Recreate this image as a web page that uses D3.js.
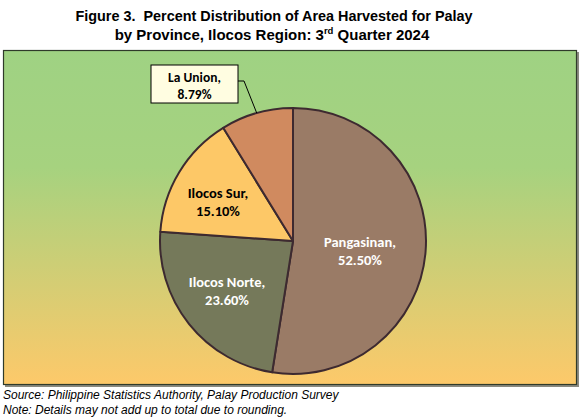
<!DOCTYPE html>
<html><head><meta charset="utf-8">
<script src="https://cdn.jsdelivr.net/npm/d3@7"></script>
<style>body{margin:0;background:#fff;} svg{display:block;}</style>
</head><body>
<svg id="c" width="581" height="420"></svg>
<script>
const provinces = ["Pangasinan", "Ilocos Norte", "Ilocos Sur", "La Union"];
const shares = [52.50, 23.60, 15.10, 8.79];
const labels = ["52.50%", "23.60%", "15.10%", "8.79%"];
const colors = ["#9a7b66", "#75795a", "#fdc867", "#d08a5f"];
const labelColors = ["#ffffff", "#ffffff", "#000000", "#000000"];

const svg = d3.select("#c");
const defs = svg.append("defs");
const grad = defs.append("linearGradient").attr("id","bg").attr("x1",0).attr("y1",0).attr("x2",0).attr("y2",1);
grad.append("stop").attr("offset","0%").attr("stop-color","#9fd283");
grad.append("stop").attr("offset","35%").attr("stop-color","#a6d27f");
grad.append("stop").attr("offset","100%").attr("stop-color","#fdc96a");

// title
const title = svg.append("text").attr("text-anchor","middle")
  .style("font-family","Liberation Sans, Arial, sans-serif").style("font-weight","bold").style("font-size","15px")
  .attr("fill","#000").attr("xml:space","preserve");
title.append("tspan").attr("x",274).attr("y",21).attr("textLength",397).attr("lengthAdjust","spacingAndGlyphs")
  .text("Figure 3.\u00A0 Percent Distribution of Area Harvested for Palay");
const t2 = title.append("tspan").attr("x",272).attr("y",40);
t2.append("tspan").text("by Province, Ilocos Region: 3");
t2.append("tspan").attr("dy",-6).style("font-size","9.5px").text("rd");
t2.append("tspan").attr("dy",6).text(" Quarter 2024");

// frame
svg.append("rect").attr("x",5).attr("y",52).attr("width",574).attr("height",335).attr("fill","#8a8a80");
svg.append("rect").attr("x",3.5).attr("y",50.5).attr("width",573).attr("height",334)
  .attr("fill","url(#bg)").attr("stroke","#2f3a2a").attr("stroke-width",1.2);

// pie
const cx = 293, cy = 241, r = 133;
const pie = d3.pie().sort(null).value(d => d)(shares);
const arc = d3.arc().innerRadius(0).outerRadius(r);
const g = svg.append("g").attr("transform",`translate(${cx},${cy})`);
g.selectAll("path").data(pie).join("path")
  .attr("d",arc).attr("fill",(d,i)=>colors[i])
  .attr("stroke","#3d2a30").attr("stroke-width",2).attr("stroke-linejoin","round");

const font = "Carlito, Lato, 'Open Sans', sans-serif";
const fs = "14.5px";
const labelPos = [[67, 6], [-66, 46], [-75, -43]];
labelPos.forEach((p,i)=>{
  const t = g.append("text").attr("text-anchor","middle")
    .style("font-family",font).style("font-weight","bold").style("font-size",fs)
    .attr("fill",labelColors[i]);
  t.append("tspan").attr("x",p[0]).attr("y",p[1]).text(provinces[i] + ",");
  t.append("tspan").attr("x",p[0]).attr("y",p[1]+17.5).text(labels[i]);
});

// La Union callout
const la = pie[3];
const mid = (la.startAngle + la.endAngle)/2;
const edge = [Math.sin(mid)*r, -Math.cos(mid)*r];
const bx = 151 - cx, by = 65 - cy, bw = 87, bh = 38;
g.append("polyline")
  .attr("points", `${bx+bw},${by+16} ${bx+bw+6},${by+16} ${edge[0]},${edge[1]}`)
  .attr("fill","none").attr("stroke","#000").attr("stroke-width",1);
g.append("rect").attr("x",bx).attr("y",by).attr("width",bw).attr("height",bh)
  .attr("fill","#fffde1").attr("stroke","#000").attr("stroke-width",1);
const lt = g.append("text").attr("text-anchor","middle")
  .style("font-family",font).style("font-weight","bold").style("font-size","13.5px").attr("fill","#000");
lt.append("tspan").attr("x",bx+bw/2).attr("y",by+17).text(provinces[3] + ",");
lt.append("tspan").attr("x",bx+bw/2).attr("y",by+34).text(labels[3]);

// footer
const foot = svg.append("text").style("font-family","Liberation Sans, Arial, sans-serif")
  .style("font-style","italic").style("font-size","12px").attr("fill","#000");
foot.append("tspan").attr("x",3).attr("y",399).text("Source: Philippine Statistics Authority, Palay Production Survey");
foot.append("tspan").attr("x",3).attr("y",414).text("Note: Details may not add up to total due to rounding.");
</script>
</body></html>
